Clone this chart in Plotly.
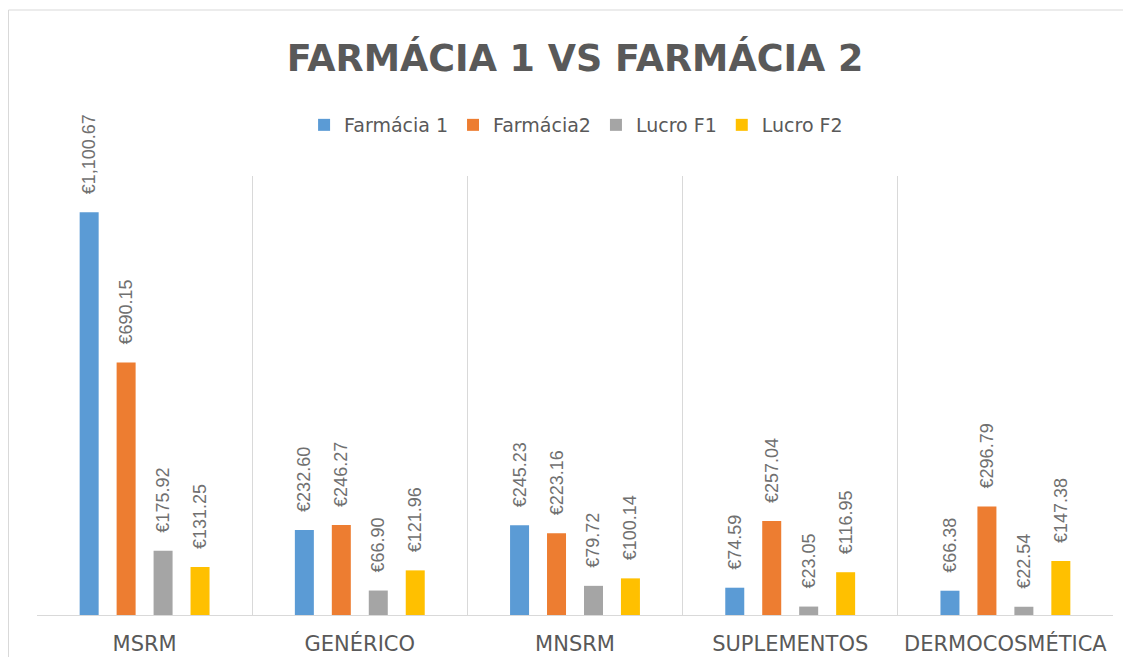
import plotly.graph_objects as go

categories = ["MSRM", "GENÉRICO", "MNSRM", "SUPLEMENTOS", "DERMOCOSMÉTICA"]
farmacia1 = [1100.67, 232.60, 245.23, 74.59, 66.38]
farmacia2 = [690.15, 246.27, 223.16, 257.04, 296.79]
lucro_f1 = [175.92, 66.90, 79.72, 23.05, 22.54]
lucro_f2 = [131.25, 121.96, 100.14, 116.95, 147.38]

series = [
    ("Farmácia 1", farmacia1, "#5B9BD5"),
    ("Farmácia2", farmacia2, "#ED7D31"),
    ("Lucro F1", lucro_f1, "#A5A5A5"),
    ("Lucro F2", lucro_f2, "#FFC000"),
]

fig = go.Figure()
for name, vals, color in series:
    fig.add_trace(go.Bar(
        name=name, x=categories, y=vals,
        marker=dict(color=color, line=dict(width=0)),
        texttemplate="\u00a0\u00a0\u00a0€%{y:,.2f}",
        textposition="outside",
        textangle=-90,
        textfont=dict(family="Liberation Sans, Arial, sans-serif", size=18, color="#707070"),
        cliponaxis=False,
        constraintext="none",
    ))

# page has an 8px body margin; figure sized to fit the window
W, H = 1115, 649
L, R, T, B = 29, 10, 168, 42
pw = W - L - R
ph = H - T - B
base = H - B

fig.update_layout(
    width=W, height=H,
    margin=dict(l=L, r=R, t=T, b=B, pad=0, autoexpand=False),
    paper_bgcolor="white", plot_bgcolor="white",
    barmode="group", bargap=0.313, bargroupgap=0.486,
    title=dict(
        text="<b>FARMÁCIA 1 VS FARMÁCIA 2</b>",
        x=0.5, xref="paper", xanchor="center",
        y=1 - 50 / H, yref="container", yanchor="middle",
        font=dict(family="DejaVu Sans, sans-serif", size=36.5, color="#595959"),
    ),
    legend=dict(
        orientation="h", x=0.501, xanchor="center", xref="paper",
        y=(base - 117) / ph, yanchor="middle",
        font=dict(family="DejaVu Sans, sans-serif", size=19, color="#595959"),
        traceorder="normal",
    ),
    xaxis=dict(
        automargin=False,
        showgrid=True, gridcolor="#D9D9D9", gridwidth=1,
        tickson="boundaries", ticks="",
        showline=True, linecolor="#D9D9D9", linewidth=1,
        ticklabelstandoff=10,
        tickfont=dict(family="DejaVu Sans, sans-serif", size=21, color="#595959"),
    ),
    yaxis=dict(
        automargin=False,
        range=[0, 1200], visible=False, showgrid=False, zeroline=False,
    ),
    showlegend=True,
    shapes=[dict(
        type="rect", xref="paper", yref="paper",
        x0=(0.5 - L) / pw, x1=1.2, y0=-0.5, y1=(base - 2) / ph,
        line=dict(color="#D9D9D9", width=1), fillcolor="rgba(0,0,0,0)",
        layer="below",
    )],
)

fig.write_html("out.html")
